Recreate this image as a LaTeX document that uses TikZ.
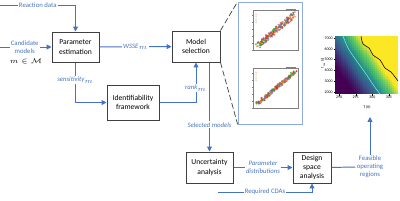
\documentclass[tikz,border=0pt]{standalone}
\usepackage{fontspec}
\setmainfont{Carlito}
\usetikzlibrary{arrows.meta}
\definecolor{flowblue}{RGB}{68,114,196}
\definecolor{lblblue}{RGB}{72,118,190}
\definecolor{boxgray}{RGB}{64,64,64}
\definecolor{framegray}{RGB}{143,170,220}
\definecolor{vA}{RGB}{68,1,84}
\definecolor{vB}{RGB}{59,82,139}
\definecolor{vC}{RGB}{33,145,140}
\definecolor{vD}{RGB}{94,201,98}
\definecolor{vE}{RGB}{253,231,37}
\definecolor{sc1}{RGB}{214,39,40}
\definecolor{sc2}{RGB}{148,103,189}
\definecolor{sc3}{RGB}{255,127,14}
\definecolor{sc4}{RGB}{44,160,44}
\definecolor{sc5}{RGB}{140,86,75}
\begin{document}
\begin{tikzpicture}[
x=0.025cm, y=-0.025cm,
box/.style={draw=boxgray, line width=0.7pt, fill=white, align=center, inner sep=1pt, font=\fontsize{5.4}{6.6}\selectfont},
arrow/.style={-{Triangle[length=3.5pt,width=3.5pt]}, flowblue, line width=0.7pt},
flow/.style={flowblue, line width=0.7pt},
lbl/.style={fill=white, text=lblblue, align=center, inner sep=0.8pt, font=\fontsize{4.8}{5.6}\selectfont},
ilbl/.style={lbl, font=\fontsize{4.8}{5.6}\selectfont\itshape},
zoomline/.style={draw=boxgray, line width=0.5pt, dash pattern=on 4pt off 2pt},
tick/.style={font=\fontsize{2.8}{3.2}\selectfont, inner sep=0.5pt}
]
\useasboundingbox (0,0) rectangle (400,200);
\node[box, minimum width=1.175cm, minimum height=0.75cm] (param) at (75.5,47) {Parameter\\estimation};
\node[box, minimum width=1.2cm, minimum height=0.775cm] (model) at (196,46.5) {Model\\selection};
\node[box, minimum width=1.3cm, minimum height=0.875cm] (ident) at (133,102.5) {Identifiability\\framework};
\node[box, minimum width=1.175cm, minimum height=0.775cm] (uncert) at (209.5,167.5) {Uncertainty\\analysis};
\node[box, minimum width=0.95cm, minimum height=0.775cm] (design) at (312,167.5) {Design\\space\\analysis};
\coordinate (react) at (0,5);
\coordinate (cand) at (0,47);
\coordinate (cda) at (218,192);
\coordinate (heat) at (370,117);
\draw[arrow] (react) -| node[lbl, pos=0.25] {Reaction data} (param);
\draw[arrow] (cand) -- node[lbl, pos=0.48] (candlbl) {Candidate\\models} (param);
\node[font=\fontsize{5}{6}\selectfont] (mset) at (26,61) {$m\in\mathcal{M}$};
\draw[arrow] (param) -- node[ilbl] {WSSE$_m$} (model);
\draw[arrow] (param.south) |- node[ilbl, pos=0.22] {sensitivity$_m$} (ident.west);
\draw[arrow] (ident.east) -| node[ilbl, pos=0.68] {rank$_m$} (model.south);
\draw[arrow] (uncert.north |- model.south) -- node[ilbl, pos=0.7] {Selected models} (uncert.north);
\draw[arrow] (uncert) -- node[ilbl] {Parameter\\distributions} (design);
\draw[arrow] (cda) -| node[lbl, pos=0.25] {Required CDAs} (design.south);
\node[lbl] (feas) at (370,167) {Feasible\\operating\\regions};
\draw[flow] (design) -- (feas);
\draw[arrow] (feas) -- (heat);
% parity plots
\node[draw=framegray, line width=0.5pt, minimum width=1.6cm, minimum height=3.05cm, inner sep=0pt] (plots) at (270,63) {};
\draw[zoomline] (model.north east) -- (plots.north west);
\draw[zoomline] (model.south east) -- (plots.south west);
\pgfmathsetseed{7}
\foreach \top in {10,68}{
  \draw[gray, line width=0.2pt] (253,\top) rectangle (298,\top+40);
  \foreach \n in {0,...,5}{
    \draw[gray, line width=0.15pt] (253+9*\n,\top+40) -- (253+9*\n,\top+41);
    \draw[gray, line width=0.15pt] (253,\top+40-7*\n) -- (252,\top+40-7*\n);
  }
  \foreach \n in {1,...,5}{
    \fill[sc\n] (256,\top+2+2*\n) circle (0.5);
  }
  \draw[gray, line width=0.15pt] (286,\top-1) -- (296,\top-1);
  \foreach \p in {1,...,220}{
    \pgfmathsetmacro\s{rnd}
    \pgfmathsetmacro\dx{rand*1.8}
    \pgfmathsetmacro\dy{rand*(\top==10 ? 3 : 1.4)}
    \pgfmathtruncatemacro\c{random(1,5)}
    \fill[sc\c, opacity=0.7] ({257+38*\s+\dx},{\top+36-32*\s+\dy}) circle (1);
  }
}
% design space heat map
\foreach \i in {0,...,29}{
  \foreach \j in {0,...,29}{
    \pgfmathsetmacro\u{(\i+0.5)/30+0.65*(\j+0.5)/30}
    \pgfmathsetmacro\v{min(0.999,pow(max(0.001,(\u-0.3)/0.75),1.3))}
    \pgfmathtruncatemacro\k{floor(\v*4)}
    \pgfmathsetmacro\t{100*(\v*4-\k)}
    \ifcase\k\colorlet{hc}{vB!\t!vA}\or\colorlet{hc}{vC!\t!vB}\or\colorlet{hc}{vD!\t!vC}\or\colorlet{hc}{vE!\t!vD}\fi
    \fill[hc] ({335+2.1*\i},{94-58*\j/30}) rectangle ({335+2.1*(\i+1)+0.3},{94-58*(\j+1)/30-0.3});
  }
}
\draw[white!70!cyan, line width=0.3pt] plot[smooth] coordinates {(343,36) (348,48) (356,60) (366,74) (374,86) (380,94)};
\draw[black, line width=0.4pt] plot[smooth] coordinates {(361,36) (363,44) (369,48) (373,55) (380,60) (385,68) (391,72) (398,81)};
\foreach \val in {2000,3000,...,7000}{
  \draw[line width=0.2pt] (335,{92-(\val-2000)/1000*10.8}) -- (333.5,{92-(\val-2000)/1000*10.8})
    node[tick, anchor=east] {\val};
}
\foreach \val in {290,295,300,305}{
  \draw[line width=0.2pt] ({339+(\val-290)*3.33},94) -- ({339+(\val-290)*3.33},95.5)
    node[tick, anchor=north] {\val};
}
\node[tick] (tlabel) at (367,107) {T (K)};
\node[tick, rotate=90] (tres) at (323,63) {t$_{\mathrm{res}}$ (s)};
\end{tikzpicture}
\end{document}
